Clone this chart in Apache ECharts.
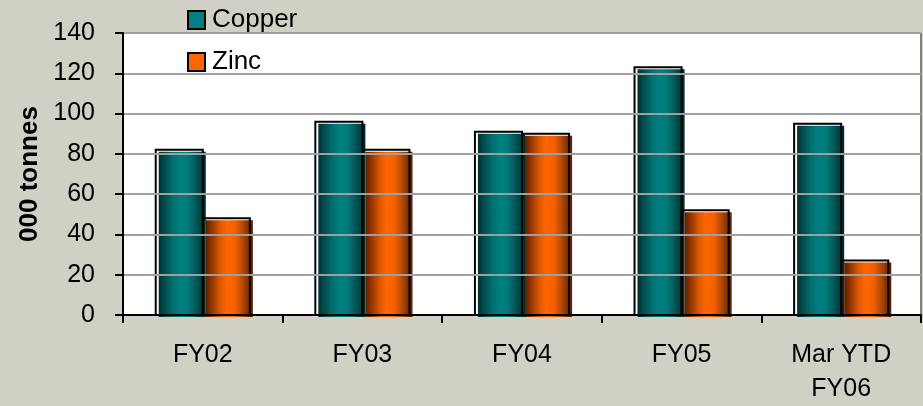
<!DOCTYPE html>
<html><head><meta charset="utf-8">
<script src="https://cdn.jsdelivr.net/npm/echarts@6/dist/echarts.min.js"></script>
<style>html,body{margin:0;padding:0;background:#d0d0c4}#c{width:923px;height:406px}</style>
</head><body><div id="c"></div>
<script>
const categories = ['FY02', 'FY03', 'FY04', 'FY05', 'Mar YTD\nFY06'];
const copper = [82, 96, 91, 123, 95];
const zinc = [48, 82, 90, 52, 27];
const yTicks = {min: 0, max: 140, interval: 20};

function grad(stops) {
  return new echarts.graphic.LinearGradient(0, 0, 1, 0, stops.map(s => ({offset: s[0], color: s[1]})));
}
const tealStops = [[0,'#003030'],[0.12,'#004c4c'],[0.3,'#006e6e'],[0.45,'#008080'],[0.62,'#007a7a'],[0.8,'#005656'],[1,'#002a2a']];
const orangeStops = [[0,'#5c2000'],[0.15,'#9c3a00'],[0.32,'#e05a00'],[0.45,'#ff6600'],[0.62,'#f26100'],[0.8,'#ad4500'],[1,'#561e00']];

const BAR_FRAC = 0.295;
function makeRender(side, stops) {
  return function (params, api) {
    const idx = api.value(0), val = api.value(1);
    const top = api.coord([idx, val]);
    const base = api.coord([idx, 0]);
    const band = api.size([1, 0])[0];
    const w = band * BAR_FRAC;
    const x0 = side === 0 ? top[0] - w : top[0];
    const h = base[1] - top[1];
    return {
      type: 'group',
      children: [
        {type: 'rect', shape: {x: x0 + 3, y: top[1] + 2, width: w, height: h}, style: {fill: grad(stops)}},
        {type: 'rect', shape: {x: x0, y: top[1], width: w, height: h}, style: {fill: 'none', stroke: '#000', lineWidth: 2}}
      ]
    };
  };
}

const chart = echarts.init(document.getElementById('c'));
chart.setOption({
  animation: false,
  backgroundColor: '#d0d0c4',
  textStyle: {fontFamily: 'Liberation Sans, Arial, sans-serif', color: '#000'},
  grid: {left: 123, right: 2, top: 33, bottom: 86, show: true, backgroundColor: '#fff', borderWidth: 0},
  graphic: [
    {type: 'rect', z: 5, shape: {x: 180, y: 30, width: 130, height: 52}, style: {fill: '#fff'}},
    {type: 'rect', z: 5, shape: {x: 180, y: 0, width: 130, height: 32}, style: {fill: '#d0d0c4'}},
    {type: 'line', z: 5, shape: {x1: 921, y1: 33, x2: 921, y2: 320}, style: {stroke: '#808080', lineWidth: 2}}
  ],
  legend: {
    z: 10,
    orient: 'vertical', left: 182, top: 2, itemGap: 16,
    itemWidth: 17, itemHeight: 18, icon: 'rect',
    textStyle: {fontSize: 26, lineHeight: 26, color: '#000', padding: [0, 0, 0, 2]},
    data: [
      {name: 'Copper', itemStyle: {color: '#008080', borderColor: '#000', borderWidth: 2}},
      {name: 'Zinc', itemStyle: {color: '#ff6600', borderColor: '#000', borderWidth: 2}}
    ]
  },
  xAxis: {
    type: 'category', data: categories, z: 10,
    axisLine: {lineStyle: {color: '#000', width: 2}},
    axisTick: {show: true, length: 8, lineStyle: {color: '#000', width: 2}},
    axisLabel: {fontSize: 25, color: '#000', margin: 23, lineHeight: 34}
  },
  yAxis: {
    type: 'value', min: yTicks.min, max: yTicks.max, interval: yTicks.interval, z: 10,
    name: '000 tonnes', nameLocation: 'middle', nameGap: 80,
    nameTextStyle: {fontSize: 26, fontWeight: 'bold', color: '#000'},
    axisLine: {show: true, lineStyle: {color: '#000', width: 2}},
    axisTick: {show: true, length: 8, lineStyle: {color: '#000', width: 2}},
    axisLabel: {fontSize: 25, color: '#000', margin: 28},
    splitLine: {lineStyle: {color: '#a0a0a0', width: 2}}
  },
  series: [
    {name: 'Copper', type: 'custom', z: 3, itemStyle: {color: '#008080'},
     encode: {x: 0, y: 1}, data: copper.map((v, i) => [i, v]), renderItem: makeRender(0, tealStops)},
    {name: 'Zinc', type: 'custom', z: 3, itemStyle: {color: '#ff6600'},
     encode: {x: 0, y: 1}, data: zinc.map((v, i) => [i, v]), renderItem: makeRender(1, orangeStops)}
  ]
});
</script></body></html>
